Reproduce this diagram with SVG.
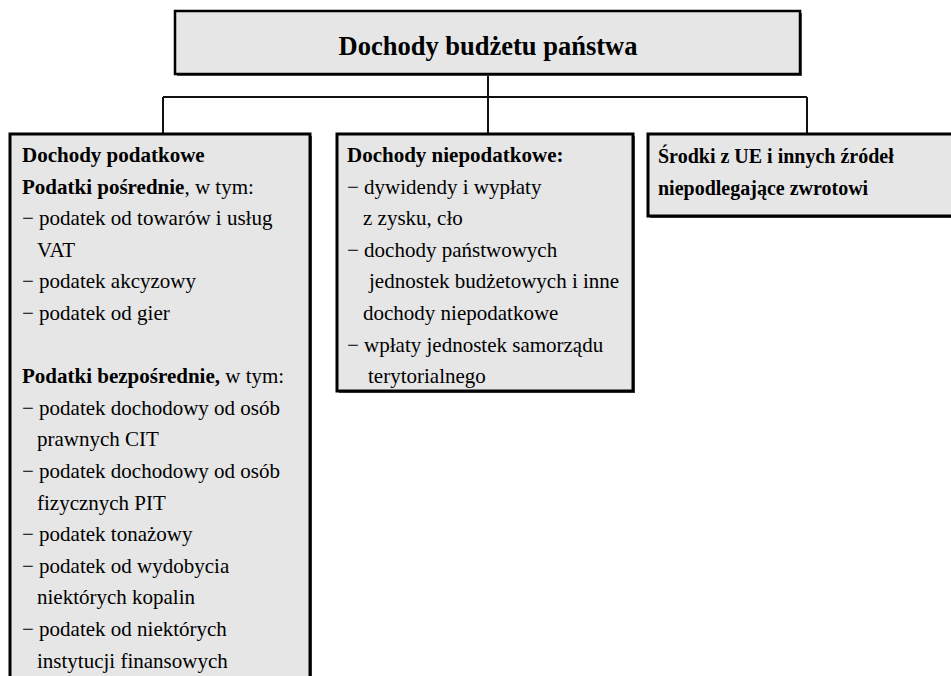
<svg xmlns="http://www.w3.org/2000/svg" width="951" height="676" viewBox="0 0 951 676">
<style>
.box{fill:#e6e6e6;stroke:#000;stroke-width:3}
.shadow{fill:#555}
.t{font-family:"Liberation Serif","Times New Roman",serif;font-size:21px;fill:#000}
.b{font-weight:bold}
.r{font-size:20px}
.title{font-family:"Liberation Serif","Times New Roman",serif;font-size:26.5px;font-weight:bold;fill:#000}
.conn{stroke:#111;stroke-width:2;fill:none}
</style>
<rect width="951" height="676" fill="#fff"/>
<g id="connectors">
<line class="conn" x1="488" y1="75" x2="488" y2="134"/>
<line class="conn" x1="163" y1="97" x2="807" y2="97"/>
<line class="conn" x1="163" y1="97" x2="163" y2="134"/>
<line class="conn" x1="807" y1="97" x2="807" y2="134"/>
</g>
<g id="title">
<rect x="177" y="13" width="625" height="63" fill="#555"/>
<rect x="175" y="11" width="625" height="63" fill="#e6e6e6" stroke="#000" stroke-width="2.5"/>
<text class="title" x="488" y="55" text-anchor="middle">Dochody budżetu państwa</text>
</g>
<g id="left">
<rect x="12" y="136" width="300" height="560" class="shadow"/>
<rect x="10" y="134" width="300" height="560" class="box"/>
<text class="t" x="22" y="162"><tspan class="b">Dochody podatkowe</tspan></text>
<text class="t" x="22" y="193.6"><tspan class="b">Podatki pośrednie</tspan>, w tym:</text>
<text class="t" x="22" y="225.2">− podatek od towarów i usług</text>
<text class="t" x="37" y="256.8">VAT</text>
<text class="t" x="22" y="288.4">− podatek akcyzowy</text>
<text class="t" x="22" y="320">− podatek od gier</text>
<text class="t" x="22" y="383.2"><tspan class="b">Podatki bezpośrednie,</tspan> w tym:</text>
<text class="t" x="22" y="414.8">− podatek dochodowy od osób</text>
<text class="t" x="37" y="446.4">prawnych CIT</text>
<text class="t" x="22" y="478">− podatek dochodowy od osób</text>
<text class="t" x="37" y="509.6">fizycznych PIT</text>
<text class="t" x="22" y="541.2">− podatek tonażowy</text>
<text class="t" x="22" y="572.8">− podatek od wydobycia</text>
<text class="t" x="37" y="604.4">niektórych kopalin</text>
<text class="t" x="22" y="636">− podatek od niektórych</text>
<text class="t" x="37" y="667.6">instytucji finansowych</text>
</g>
<g id="middle">
<rect x="339" y="136" width="296" height="257" class="shadow"/>
<rect x="337" y="134" width="296" height="257" class="box"/>
<text class="t" x="347" y="162"><tspan class="b">Dochody niepodatkowe:</tspan></text>
<text class="t" x="347" y="193.6">− dywidendy i wypłaty</text>
<text class="t" x="363" y="225.2">z zysku, cło</text>
<text class="t" x="347" y="256.8">− dochody państwowych</text>
<text class="t" x="369" y="288.4">jednostek budżetowych i inne</text>
<text class="t" x="363" y="320">dochody niepodatkowe</text>
<text class="t" x="347" y="351.6">− wpłaty jednostek samorządu</text>
<text class="t" x="368" y="383.2">terytorialnego</text>
</g>
<g id="right">
<rect x="650" y="136" width="320" height="82" class="shadow"/>
<rect x="648" y="134" width="320" height="82" class="box"/>
<text class="t b r" x="658" y="163">Środki z UE i innych źródeł</text>
<text class="t b r" x="658" y="195">niepodlegające zwrotowi</text>
</g>
</svg>
